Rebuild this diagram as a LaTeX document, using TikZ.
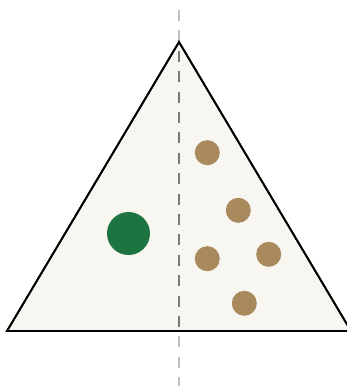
\documentclass[tikz,border=0pt]{standalone}
\begin{document}
\begin{tikzpicture}[x=1bp,y=-1bp,
  tri/.style={draw=black,line width=1.8bp,fill=cream,line join=miter},
  axisout/.style={draw=gray!50,line width=2bp,dash pattern=on 11bp off 9.4bp},
  axisin/.style={draw=gray!95!black,line width=2bp,dash pattern=on 11bp off 9.4bp},
  bigdot/.style={circle,fill=dgreen,inner sep=0pt,minimum size=43bp},
  smalldot/.style={circle,fill=tan,inner sep=0pt,minimum size=25bp}]
\definecolor{cream}{HTML}{F8F6F0}
\definecolor{dgreen}{HTML}{1D7440}
\definecolor{tan}{HTML}{A88A5C}
\useasboundingbox (0,0) rectangle (347,386);
\coordinate (top) at (179,10);
\coordinate (bot) at (179,388);
\coordinate (A) at (179,42);
\coordinate (L) at (7,331);
\coordinate (R) at (351,331);
\draw[axisout] (top) -- (bot);
\draw[tri] (A) -- (L) -- (R) -- cycle;
\begin{scope}
\clip (A) -- (L) -- (R) -- cycle;
\draw[axisin] (top) -- (bot);
\end{scope}
\draw[tri,fill=none] (A) -- (L) -- (R) -- cycle;
\node[bigdot] (g) at (128.5,233.5) {};
\node[smalldot] (b1) at (207.3,152.7) {};
\node[smalldot] (b2) at (238.3,210.3) {};
\node[smalldot] (b3) at (207.3,258.7) {};
\node[smalldot] (b4) at (268.7,254.3) {};
\node[smalldot] (b5) at (244.3,303.3) {};
\end{tikzpicture}
\end{document}
